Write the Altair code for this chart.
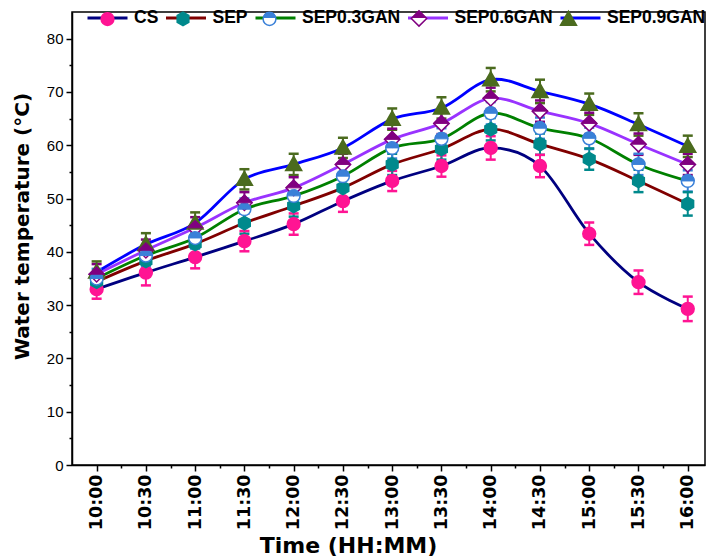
import json
import altair as alt
import pandas as pd

# ---------------- data ----------------
times = ["10:00", "10:30", "11:00", "11:30", "12:00", "12:30", "13:00",
         "13:30", "14:00", "14:30", "15:00", "15:30", "16:00"]
names = ["CS", "SEP", "SEP0.3GAN", "SEP0.6GAN", "SEP0.9GAN"]

cs_vals = [33.0, 36.1, 39.0, 42.0, 45.2, 49.5, 53.3, 56.1, 59.5, 56.1, 43.4, 34.3, 29.3]
sep_vals = [34.4, 38.3, 41.5, 45.4, 48.6, 52.0, 56.4, 59.3, 63.0, 60.2, 57.4, 53.3, 49.0]
sep03_vals = [35.0, 39.3, 42.6, 48.0, 50.5, 54.2, 59.5, 61.2, 66.0, 63.2, 61.3, 56.4, 53.3]
sep06_vals = [35.8, 40.3, 44.5, 49.2, 52.0, 56.4, 61.1, 64.1, 68.8, 66.4, 64.1, 60.2, 56.4]
sep09_vals = [36.2, 41.4, 45.4, 53.6, 56.4, 59.5, 64.9, 67.0, 72.3, 70.1, 67.7, 63.9, 59.8]

cs_err = [1.8, 2.4, 2.1, 1.9, 2.0, 2.0, 1.9, 2.0, 2.2, 2.1, 2.1, 2.2, 2.3]
sep_err = [1.8, 2.0, 1.9, 2.0, 2.0, 1.9, 2.0, 2.0, 2.1, 2.0, 2.0, 2.1, 2.2]
sep03_err = [1.8, 2.0, 2.0, 2.0, 1.9, 2.0, 2.0, 2.0, 2.1, 2.0, 2.0, 2.0, 2.0]
sep06_err = [1.9, 2.0, 2.0, 2.0, 2.0, 2.0, 2.0, 2.0, 2.0, 2.0, 2.0, 2.0, 2.0]
sep09_err = [2.0, 2.1, 2.0, 1.9, 2.0, 1.9, 2.0, 2.0, 2.2, 2.2, 2.0, 2.1, 2.0]

values = [cs_vals, sep_vals, sep03_vals, sep06_vals, sep09_vals]
errors = [cs_err, sep_err, sep03_err, sep06_err, sep09_err]

rows = []
for name, vals, errs in zip(names, values, errors):
    for i, (t, v, e) in enumerate(zip(times, vals, errs)):
        rows.append({"idx": i, "time": t, "series": name, "value": v,
                     "lo": v - e, "hi": v + e})
df = pd.DataFrame(rows)

# ---------------- styles ----------------
FONT = "Liberation Sans"
BFONT = "DejaVu Sans"
line_colors = ["#000080", "#800000", "#008000", "#9933FF", "#0000FF"]
err_colors = ["#FF1493", "#00898C", "#3A80D8", "#800080", "#4B6B1E"]
marker_fill = ["#FF1493", "#00898C", "#FFFFFF", "#FFFFFF", "#4B6B1E"]
marker_stroke = ["#FF1493", "#00898C", "#3A80D8", "#800080", "#4B6B1E"]
half_names = ["SEP0.3GAN", "SEP0.6GAN"]
half_fill = ["#3A80D8", "#800080"]


def f(x):
    return f"{x:.4f}"


def circle(s):
    return f"M{f(-s)},0A{f(s)},{f(s)},0,1,1,{f(s)},0A{f(s)},{f(s)},0,1,1,{f(-s)},0Z"


def half_circle(s):
    return f"M{f(-s)},0A{f(s)},{f(s)},0,0,1,{f(s)},0Z"


def hexagon(s):
    a = 0.866 * s
    return (f"M0,{f(-s)}L{f(a)},{f(-s/2)}L{f(a)},{f(s/2)}L0,{f(s)}"
            f"L{f(-a)},{f(s/2)}L{f(-a)},{f(-s/2)}Z")


def diamond(s):
    return f"M{f(-s)},0L0,{f(-s)}L{f(s)},0L0,{f(s)}Z"


def half_diamond(s):
    return f"M{f(-s)},0L0,{f(-s)}L{f(s)},0Z"


def triangle(s):
    return f"M0,{f(-s)}L{f(s)},{f(0.75*s)}L{f(-s)},{f(0.75*s)}Z"


def shape_set(k):
    return [circle(k), hexagon(k * 1.05), circle(k), diamond(k * 1.2), triangle(k * 1.25)]


def half_set(k):
    return [half_circle(k), half_diamond(k * 1.2)]


MARKER_SIZE = 165
LEG_FS = 17.5
LEG_OFF = 5
LEG_LINE = 40.0            # legend line length
LEG_SW_A = 3.0
LEG_SW_B = 1.5
LEG_SIDE_B = LEG_LINE + LEG_SW_A - LEG_SW_B      # so both symbol columns are 43 px
LEG_SIZE_B = LEG_SIDE_B ** 2
UNIT = LEG_SIDE_B / 2                            # px per custom-path unit
CELL = LEG_LINE + LEG_SW_A                       # symbol column width
k_leg = 6.4 / UNIT

# Liberation Sans Bold advance widths, used so the label-less marker legends
# take the same column widths as the line legend that carries the labels.
ADV = {"C": 0.722, "S": 0.667, "E": 0.667, "P": 0.667, "0": 0.556, ".": 0.278,
       "3": 0.556, "6": 0.556, "9": 0.556, "G": 0.778, "A": 0.722, "N": 0.722}
label_w = [sum(ADV[c] for c in n) * LEG_FS for n in names]
reach = [f" M{f((CELL / 2 + LEG_OFF + w - 0.75) / UNIT)},0" for w in label_w]

leg_common = dict(orient="none", legendX=14, legendY=-15.5, direction="horizontal",
                  columns=5, title=None, labelFont=FONT, labelFontSize=LEG_FS,
                  labelFontWeight="bold", labelColor="black", labelOffset=LEG_OFF,
                  columnPadding=0.5, labelLimit=300)

legA = alt.Legend(symbolType="stroke", symbolSize=LEG_LINE ** 2,
                  symbolStrokeWidth=LEG_SW_A, **leg_common)
legB = alt.Legend(symbolSize=LEG_SIZE_B, symbolStrokeWidth=LEG_SW_B,
                  labelExpr="''", symbolOpacity=1, **leg_common)
legC = alt.Legend(symbolSize=LEG_SIZE_B, symbolStrokeWidth=LEG_SW_B,
                  symbolStrokeColor="transparent", labelExpr="''",
                  symbolOpacity=1, **leg_common)

# ---------------- axes ----------------
x_label_expr = ("datum.value % 1 == 0 ? " + json.dumps(times) +
                "[datum.value] : ''")
x_axis = alt.Axis(
    values=[i * 0.5 for i in range(25)], labelExpr=x_label_expr,
    labelAngle=270, labelAlign="right", labelBaseline="middle",
    labelFont=BFONT, labelFontSize=17.5, labelFontWeight="bold", labelColor="black",
    labelPadding=3, labelOverlap=False, labelFlush=False,
    tickSize={"condition": {"test": "datum.value % 1 != 0", "value": 3}, "value": 6},
    tickColor="black", tickWidth=1.5, domainColor="black", domainWidth=1.5,
    grid=False, titleFont=BFONT, titleFontSize=22, titleFontWeight="bold",
    titleColor="black", titleX=276, titleY=87, titleAlign="center",
    titleBaseline="alphabetic")
y_axis = alt.Axis(
    values=[i * 5 for i in range(17)],
    labelExpr="datum.value % 10 == 0 ? datum.label : ''",
    labelFont=FONT, labelFontSize=15, labelColor="black", labelPadding=3,
    labelOverlap=False, labelFlush=False,
    tickSize={"condition": {"test": "datum.value % 10 != 0", "value": 3}, "value": 6},
    tickColor="black", tickWidth=1.5, domainColor="black", domainWidth=1.5,
    grid=False, titleFont=BFONT, titleFontSize=20, titleFontWeight="bold",
    titleColor="black", titleAngle=270, titleX=-44, titleY=214,
    titleAlign="center", titleBaseline="alphabetic")

xscale = alt.Scale(domain=[-0.5, 12.35], nice=False, zero=False)
yscale = alt.Scale(domain=[0, 85], nice=False, zero=False)
X_TITLE = "Time (HH:MM)"
Y_TITLE = "Water temperature (°C)"


def X():
    return alt.X("idx:Q", scale=xscale, axis=x_axis, title=X_TITLE)


def Yf(field):
    return alt.Y(f"{field}:Q", scale=yscale, axis=y_axis, title=Y_TITLE)


base = alt.Chart(df)

lines = base.mark_line(strokeWidth=2.8, interpolate="cardinal").encode(
    x=X(), y=Yf("value"),
    color=alt.Color("series:N", scale=alt.Scale(domain=names, range=line_colors),
                    legend=legA, sort=names))

err_color = alt.Color("series:N", scale=alt.Scale(domain=names, range=err_colors),
                      legend=None)
err_rule = base.mark_rule(strokeWidth=2).encode(
    x=X(), y=Yf("lo"), y2="hi:Q", color=err_color)
cap_lo = base.mark_rule(strokeWidth=2.5, xOffset=-5, x2Offset=5).encode(
    x=X(), x2="idx:Q", y=Yf("lo"), color=err_color)
cap_hi = base.mark_rule(strokeWidth=2.5, xOffset=-5, x2Offset=5).encode(
    x=X(), x2="idx:Q", y=Yf("hi"), color=err_color)

points = base.mark_point(filled=True, size=MARKER_SIZE, strokeWidth=1.5,
                         opacity=1).encode(
    x=X(), y=Yf("value"),
    shape=alt.Shape("series:N", scale=alt.Scale(domain=names, range=shape_set(1.0)),
                    legend=None),
    fill=alt.Fill("series:N", scale=alt.Scale(domain=names, range=marker_fill),
                  legend=None),
    stroke=alt.Stroke("series:N", scale=alt.Scale(domain=names, range=marker_stroke),
                      legend=None))

halves = base.transform_filter(
    alt.FieldOneOfPredicate(field="series", oneOf=half_names)
).mark_point(filled=True, size=MARKER_SIZE, strokeWidth=1, opacity=1).encode(
    x=X(), y=Yf("value"),
    shape=alt.Shape("series:N", scale=alt.Scale(domain=half_names, range=half_set(1.0)),
                    legend=None),
    fill=alt.Fill("series:N", scale=alt.Scale(domain=half_names, range=half_fill),
                  legend=None),
    stroke=alt.Stroke("series:N", scale=alt.Scale(domain=half_names, range=half_fill),
                      legend=None))

# legend-only layers (no data drawn): marker symbols on top of the line symbols
leg_shapes = [s + r for s, r in zip(shape_set(k_leg), reach)]
leg_marker = base.transform_filter("false").mark_point(
    filled=True, size=MARKER_SIZE, opacity=1).encode(
    x=X(), y=Yf("value"),
    shape=alt.Shape("series:N", scale=alt.Scale(domain=names, range=leg_shapes),
                    legend=legB, sort=names),
    fill=alt.Fill("series:N", scale=alt.Scale(domain=names, range=marker_fill),
                  legend=legB, sort=names),
    stroke=alt.Stroke("series:N", scale=alt.Scale(domain=names, range=marker_stroke),
                      legend=legB, sort=names))

half_leg_fill = ["transparent", "transparent", half_fill[0], half_fill[1], "transparent"]
half_leg_shapes = [half_circle(k_leg), half_circle(k_leg), half_circle(k_leg),
                   half_diamond(k_leg * 1.2), half_circle(k_leg)]
half_leg_shapes = [s + r for s, r in zip(half_leg_shapes, reach)]
leg_half = base.transform_filter("false").mark_point(
    filled=True, size=MARKER_SIZE, opacity=1).encode(
    x=X(), y=Yf("value"),
    shape=alt.Shape("series:N", scale=alt.Scale(domain=names, range=half_leg_shapes),
                    legend=legC, sort=names),
    fill=alt.Fill("series:N", scale=alt.Scale(domain=names, range=half_leg_fill),
                  legend=legC, sort=names))

chart = alt.layer(
    lines, err_rule, cap_lo, cap_hi, points, halves, leg_marker, leg_half
).resolve_scale(
    color="independent", shape="independent", fill="independent", stroke="independent"
).resolve_legend(
    color="independent", shape="independent", fill="independent", stroke="independent"
).properties(
    width=633, height=453,
    autosize=alt.AutoSizeParams(type="none"),
    padding={"left": 72, "top": 12, "right": 4, "bottom": 94},
    background="white",
).configure_view(
    stroke="black", strokeWidth=1.5
)

chart.save("out.html", embed_options={"renderer": "svg", "actions": False})
